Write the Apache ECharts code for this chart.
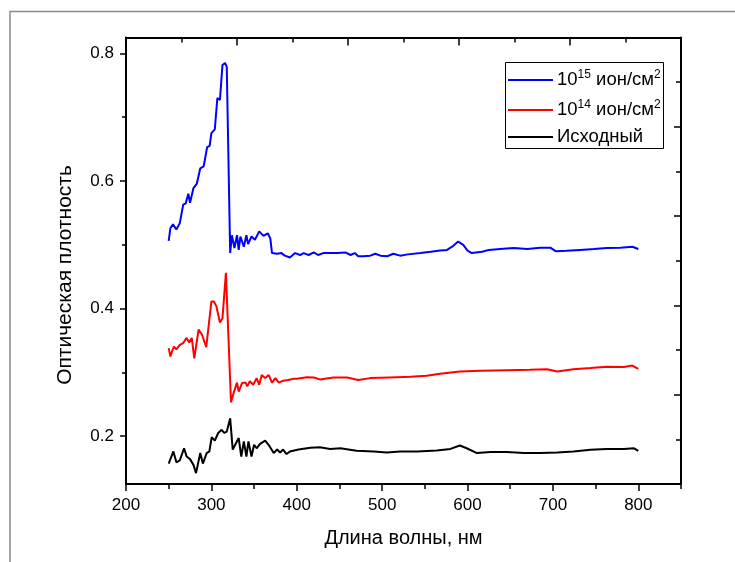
<!DOCTYPE html>
<html>
<head>
<meta charset="utf-8">
<script src="https://cdn.jsdelivr.net/npm/echarts@6/dist/echarts.min.js"></script>
<style>
html, body { margin: 0; padding: 0; background: #ffffff; }
#chart { width: 735px; height: 562px; }
</style>
</head>
<body>
<div id="chart"></div>
<script>
// Axis ticks
const xTicks = [200, 300, 400, 500, 600, 700, 800];
const xMinorTicks = [250, 350, 450, 550, 650, 750, 850];
const yTicks = [0.2, 0.4, 0.6, 0.8];
const yMinorTicks = [0.3, 0.5, 0.7];

// 10^15 ион/см² — wavelength (нм) and optical density
const wlBlue = [250, 252, 255, 259, 263, 267, 270, 273, 275, 279, 283, 287, 291, 295, 298, 300, 304, 307, 310, 313, 316, 318,
  322, 324, 327, 330, 332, 334, 338, 341, 343, 347, 351, 356, 361, 366, 369, 371, 377, 382, 386, 392, 398, 404, 408, 414,
  420, 425, 431, 439, 447, 457, 463, 468, 472, 478, 486, 492, 498, 506, 513, 521, 530, 545, 557, 568, 576, 582, 589, 595,
  600, 605, 617, 625, 638, 654, 670, 685, 697, 703, 716, 732, 748, 763, 779, 793, 800];
const odBlue = [0.506, 0.526, 0.532, 0.524, 0.534, 0.563, 0.565, 0.580, 0.566, 0.589, 0.596, 0.620, 0.623, 0.653, 0.655, 0.675,
  0.681, 0.730, 0.727, 0.782, 0.785, 0.779, 0.487, 0.515, 0.495, 0.515, 0.492, 0.513, 0.497, 0.515, 0.501, 0.513, 0.508,
  0.521, 0.514, 0.518, 0.510, 0.487, 0.486, 0.487, 0.483, 0.480, 0.487, 0.484, 0.487, 0.484, 0.488, 0.484, 0.487, 0.487,
  0.487, 0.488, 0.484, 0.487, 0.482, 0.482, 0.483, 0.486, 0.483, 0.482, 0.486, 0.483, 0.485, 0.487, 0.489, 0.491, 0.492,
  0.497, 0.505, 0.500, 0.491, 0.487, 0.489, 0.492, 0.4935, 0.495, 0.4935, 0.4955, 0.4955, 0.490, 0.4905, 0.492, 0.4935,
  0.495, 0.4955, 0.497, 0.4935];

// 10^14 ион/см²
const wlRed = [250, 252, 256, 259, 263, 267, 271, 274, 277, 280, 285, 289, 294, 300, 303, 306, 310, 313, 317, 323, 326, 330,
  332, 336, 340, 342, 345, 349, 353, 356, 359, 363, 367, 371, 375, 379, 384, 390, 396, 400, 412, 420, 427, 443, 459, 472,
  486, 509, 533, 552, 568, 591, 615, 646, 673, 693, 705, 724, 744, 763, 783, 793, 800];
const odRed = [0.338, 0.325, 0.3405, 0.336, 0.343, 0.346, 0.354, 0.347, 0.354, 0.322, 0.367, 0.359, 0.3395, 0.411, 0.411,
  0.403, 0.378, 0.385, 0.456, 0.253, 0.2675, 0.284, 0.270, 0.2835, 0.284, 0.278, 0.286, 0.2805, 0.291, 0.2805, 0.296,
  0.291, 0.296, 0.284, 0.291, 0.284, 0.287, 0.288, 0.290, 0.290, 0.2925, 0.292, 0.289, 0.292, 0.292, 0.288, 0.291, 0.292,
  0.293, 0.2946, 0.298, 0.3013, 0.3024, 0.3035, 0.304, 0.305, 0.3013, 0.305, 0.3067, 0.3087, 0.3083, 0.3107, 0.3056];

// Исходный
const wlBlack = [250, 255.5, 259, 263, 268, 271, 275, 279, 282, 287, 290, 294.5, 297.6, 300.4, 304, 308, 312, 315, 318, 322,
  325, 332, 335, 338, 341, 343.4, 347, 350, 353, 357, 363, 367, 373, 377, 380.5, 384, 388, 392, 402, 416, 427, 439, 451,
  470, 490, 505.5, 521, 541, 564, 580, 591, 599, 611, 627, 646, 666, 685, 705, 724, 744, 763, 783, 795, 800];
const odBlack = [0.157, 0.176, 0.159, 0.162, 0.181, 0.168, 0.164, 0.155, 0.142, 0.1735, 0.157, 0.1735, 0.176, 0.1986, 0.193,
  0.205, 0.210, 0.205, 0.207, 0.228, 0.179, 0.197, 0.168, 0.1917, 0.168, 0.1917, 0.168, 0.1865, 0.181, 0.188, 0.193,
  0.1865, 0.1735, 0.179, 0.1745, 0.179, 0.172, 0.176, 0.179, 0.182, 0.1827, 0.180, 0.181, 0.177, 0.176, 0.1745, 0.176,
  0.176, 0.1776, 0.180, 0.1854, 0.181, 0.1735, 0.175, 0.175, 0.1735, 0.1735, 0.1745, 0.176, 0.1787, 0.1797, 0.180,
  0.181, 0.177];

const BLUE = '#0000ff', RED = '#ff0000', BLACK = '#000000';
const FONT = '"Liberation Sans", Arial, Helvetica, sans-serif';

function pairs(wl, od) { return wl.map((w, i) => [w, od[i]]); }

const chart = echarts.init(document.getElementById('chart'), null, { renderer: 'canvas' });

const frameLine = { show: true, onZero: false, lineStyle: { color: BLACK, width: 2 } };
const tickStyle = { color: BLACK, width: 1.5 };
const labelStyle = { color: BLACK, fontSize: 17, fontFamily: FONT };

function line(name, wl, od, color) {
  return {
    name, type: 'line', xAxisIndex: 0, yAxisIndex: 0,
    data: pairs(wl, od), symbol: 'none', smooth: false,
    lineStyle: { color, width: 2 }, itemStyle: { color },
    silent: true, z: 3
  };
}

const legendRows = [
  { color: BLUE, text: '{b|10}{sup|15}{b| ион/см}{sup|2}', y: 80 },
  { color: RED, text: '{b|10}{sup|14}{b| ион/см}{sup|2}', y: 110 },
  { color: BLACK, text: '{b|Исходный}', y: 137 }
];
const richText = {
  b: { fontSize: 18.5, fontFamily: FONT, fill: BLACK, lineHeight: 23 },
  sup: { fontSize: 12, fontFamily: FONT, fill: BLACK, lineHeight: 13, verticalAlign: 'top' }
};

const legendGraphics = [
  { type: 'rect', shape: { x: 505.5, y: 62.5, width: 158, height: 86 },
    style: { fill: '#ffffff', stroke: BLACK, lineWidth: 1 }, z: 10 }
];
legendRows.forEach(r => {
  legendGraphics.push({ type: 'line', shape: { x1: 508, y1: r.y, x2: 553, y2: r.y },
    style: { stroke: r.color, lineWidth: 2 }, z: 11 });
  legendGraphics.push({ type: 'text', x: 557, y: r.y,
    style: { text: r.text, rich: richText, verticalAlign: 'middle', align: 'left', fill: BLACK }, z: 11 });
});

chart.setOption({
  animation: false,
  backgroundColor: '#ffffff',
  grid: { left: 126, top: 37.5, width: 555, height: 446.5, containLabel: false },
  xAxis: [
    {
      type: 'value', position: 'bottom', min: 200, max: 850,
      axisLine: frameLine,
      axisTick: { show: true, customValues: xTicks, length: 7, lineStyle: tickStyle },
      axisLabel: Object.assign({ customValues: xTicks, margin: 13 }, labelStyle),
      splitLine: { show: false },
      name: 'Длина волны, нм', nameLocation: 'middle', nameGap: 44,
      nameTextStyle: { color: BLACK, fontSize: 20, fontFamily: FONT }
    },
    {
      type: 'value', position: 'bottom', min: 200, max: 850,
      axisLine: { show: false },
      axisTick: { show: true, customValues: xMinorTicks, length: 5, lineStyle: tickStyle },
      axisLabel: { show: false }, splitLine: { show: false }
    },
    {
      type: 'value', position: 'top', min: 0, max: 10, interval: 2,
      axisLine: frameLine,
      axisTick: { show: true, inside: true, length: 8, lineStyle: tickStyle },
      minorTick: { show: true, splitNumber: 2, length: 5, lineStyle: tickStyle },
      axisLabel: { show: false }, splitLine: { show: false }, minorSplitLine: { show: false }
    }
  ],
  yAxis: [
    {
      type: 'value', position: 'left', min: 0.125, max: 0.825,
      axisLine: frameLine,
      axisTick: { show: true, customValues: yTicks, length: 6, lineStyle: tickStyle },
      axisLabel: Object.assign({ customValues: yTicks, margin: 12, formatter: v => v.toFixed(1) }, labelStyle),
      splitLine: { show: false }
    },
    {
      type: 'value', position: 'left', min: 0.125, max: 0.825,
      axisLine: { show: false },
      axisTick: { show: true, customValues: yMinorTicks, length: 4, lineStyle: tickStyle },
      axisLabel: { show: false }, splitLine: { show: false }
    },
    {
      type: 'value', position: 'right', min: 0, max: 10, interval: 2,
      axisLine: frameLine,
      axisTick: { show: true, inside: true, length: 7, lineStyle: tickStyle },
      minorTick: { show: true, splitNumber: 2, length: 5, lineStyle: tickStyle },
      axisLabel: { show: false }, splitLine: { show: false }, minorSplitLine: { show: false }
    }
  ],
  series: [
    line('10^15 ион/см2', wlBlue, odBlue, BLUE),
    line('10^14 ион/см2', wlRed, odRed, RED),
    line('Исходный', wlBlack, odBlack, BLACK)
  ],
  graphic: [
    { type: 'rect', shape: { x: 10, y: 11.5, width: 760, height: 600 },
      style: { fill: 'none', stroke: '#8a8a8a', lineWidth: 1.5 }, z: 0, silent: true },
    { type: 'text', x: 65, y: 275, rotation: Math.PI / 2,
      style: { text: 'Оптическая плотность', fontSize: 21, fontFamily: FONT, fill: BLACK,
        align: 'center', verticalAlign: 'middle' } }
  ].concat(legendGraphics)
});
</script>
</body>
</html>
